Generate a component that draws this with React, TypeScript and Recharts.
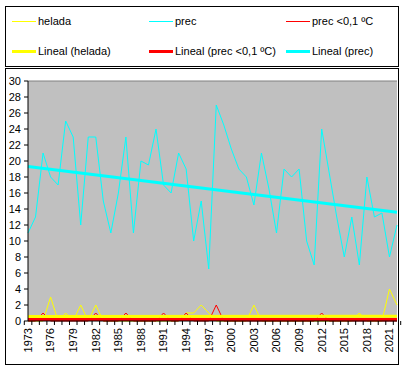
import React from "react";
import {
  LineChart,
  Line,
  XAxis,
  YAxis,
  CartesianGrid,
  ReferenceLine,
} from "recharts";

const years = [
  "1973", "1974", "1975", "1976", "1977", "1978", "1979", "1980", "1981", "1982",
  "1983", "1984", "1985", "1986", "1987", "1988", "1989", "1990", "1991", "1992",
  "1993", "1994", "1995", "1996", "1997", "1998", "1999", "2000", "2001", "2002",
  "2003", "2004", "2005", "2006", "2007", "2008", "2009", "2010", "2011", "2012",
  "2013", "2014", "2015", "2016", "2017", "2018", "2019", "2020", "2021", "2022",
];

const helada = [
  0, 0, 0, 3, 0, 1, 0, 2, 0, 2,
  0, 0, 0, 0, 0, 0, 0, 0, 0, 0,
  0, 1, 1, 2, 1, 0, 0, 0, 0, 0,
  2, 0, 0, 0, 0, 0, 0, 0, 0, 0,
  0, 0, 0, 0, 1, 0, 0, 0, 4, 2,
];

const prec = [
  11, 13, 21, 18, 17, 25, 23, 12, 23, 23,
  15, 11, 16, 23, 11, 20, 19.5, 24, 17, 16,
  21, 19, 10, 15, 6.5, 27, 24.5, 21.5, 19, 18,
  14.5, 21, 16.5, 11, 19, 18, 19, 10, 7, 24,
  18.5, 13, 8, 13, 7, 18, 13, 13.5, 8, 12,
];

const precFrost = [
  0, 0, 1, 0, 0, 0, 0, 0, 0, 1,
  0, 0, 0, 1, 0, 0, 0, 0, 1, 0,
  0, 1, 0, 0, 0, 2, 0, 0, 0, 0,
  0, 0, 0, 0, 0, 0, 0, 0, 0, 1,
  0, 0, 0, 0, 0, 0, 0, 0, 0, 0,
];

// trend line end points (first year, last year)
const trendHelada = [0.55, 0.6];
const trendPrecFrost = [0.2, 0.2];
const trendPrec = [19.3, 13.6];

const yTicks = [0, 2, 4, 6, 8, 10, 12, 14, 16, 18, 20, 22, 24, 26, 28, 30];

const last = years.length - 1;
const data = years.map((year, i) => ({
  year,
  helada: helada[i],
  prec: prec[i],
  precFrost: precFrost[i],
  tHelada: i === 0 ? trendHelada[0] : i === last ? trendHelada[1] : null,
  tPrecFrost: i === 0 ? trendPrecFrost[0] : i === last ? trendPrecFrost[1] : null,
  tPrec: i === 0 ? trendPrec[0] : i === last ? trendPrec[1] : null,
}));

const FONT = "'Liberation Sans', Arial, sans-serif";
const PLOT_LEFT = 28;
const PLOT_RIGHT = 397;
const PLOT_BOTTOM = 321;
const BAND = (PLOT_RIGHT - PLOT_LEFT) / years.length;

const XTick = (props: any) => {
  const { x, index, payload } = props;
  const left = x - BAND / 2;
  return (
    <g>
      <line x1={left} y1={PLOT_BOTTOM} x2={left} y2={PLOT_BOTTOM + 4} stroke="#000" />
      {index === last && (
        <line x1={left + BAND} y1={PLOT_BOTTOM} x2={left + BAND} y2={PLOT_BOTTOM + 4} stroke="#000" />
      )}
      {index % 3 === 0 && (
        <text
          x={x}
          y={PLOT_BOTTOM + 7}
          dy="0.35em"
          textAnchor="end"
          transform={`rotate(-90, ${x}, ${PLOT_BOTTOM + 7})`}
          fontSize={11}
          fontFamily={FONT}
          fill="#000"
        >
          {payload.value}
        </text>
      )}
    </g>
  );
};

const legendItems = [
  { label: "helada", color: "#ffff00", width: 1, left: 12, top: 21 },
  { label: "prec", color: "#00ffff", width: 1, left: 149, top: 21 },
  { label: "prec <0,1 ºC", color: "#ff0000", width: 1, left: 286, top: 21 },
  { label: "Lineal (helada)", color: "#ffff00", width: 3, left: 12, top: 51 },
  { label: "Lineal (prec <0,1 ºC)", color: "#ff0000", width: 3, left: 149, top: 51 },
  { label: "Lineal (prec)", color: "#00ffff", width: 3, left: 286, top: 51 },
];

export default function App() {
  return (
    <div
      style={{
        position: "absolute",
        left: 0,
        top: 0,
        width: 403,
        height: 369,
        background: "#fff",
        fontFamily: FONT,
      }}
    >
      <div
        style={{
          position: "absolute",
          left: 5,
          top: 6,
          width: 392,
          height: 59,
          border: "1px solid #000",
        }}
      />
      {legendItems.map((it) => (
        <div key={it.label}>
          <div
            style={{
              position: "absolute",
              left: it.left,
              top: it.top - Math.floor(it.width / 2),
              width: 24,
              height: it.width,
              background: it.color,
            }}
          />
          <div
            style={{
              position: "absolute",
              left: it.left + 26,
              top: it.top - 7,
              fontSize: 11,
              lineHeight: "14px",
              color: "#000",
              whiteSpace: "nowrap",
            }}
          >
            {it.label}
          </div>
        </div>
      ))}
      <div
        style={{
          position: "absolute",
          left: 5,
          top: 68,
          width: 392,
          height: 295,
          border: "1px solid #000",
        }}
      />
      <div style={{ position: "absolute", left: 0, top: 0 }}>
        <LineChart
          width={403}
          height={369}
          data={data}
          margin={{ top: 81, right: 403 - PLOT_RIGHT, bottom: 0, left: 6 }}
        >
          <CartesianGrid fill="#c0c0c0" horizontal={false} vertical={false} />
          <ReferenceLine y={30} stroke="#808080" />
          <XAxis
            dataKey="year"
            interval={0}
            height={48}
            tickLine={false}
            axisLine={{ stroke: "#000" }}
            tick={<XTick />}
          />
          <YAxis
            domain={[0, 30]}
            ticks={yTicks}
            interval={0}
            width={22}
            tickSize={4}
            tickMargin={3}
            axisLine={{ stroke: "#000" }}
            tickLine={{ stroke: "#000" }}
            tick={{ fontSize: 11, fontFamily: FONT, fill: "#000" }}
          />
          <Line dataKey="helada" stroke="#ffff00" strokeWidth={1} dot={false} isAnimationActive={false} />
          <Line dataKey="prec" stroke="#00ffff" strokeWidth={1} dot={false} isAnimationActive={false} />
          <Line dataKey="precFrost" stroke="#ff0000" strokeWidth={1} dot={false} isAnimationActive={false} />
          <Line dataKey="tHelada" stroke="#ffff00" strokeWidth={3} dot={false} connectNulls isAnimationActive={false} />
          <Line dataKey="tPrecFrost" stroke="#ff0000" strokeWidth={3} dot={false} connectNulls isAnimationActive={false} />
          <Line dataKey="tPrec" stroke="#00ffff" strokeWidth={3} dot={false} connectNulls isAnimationActive={false} />
        </LineChart>
      </div>
    </div>
  );
}
